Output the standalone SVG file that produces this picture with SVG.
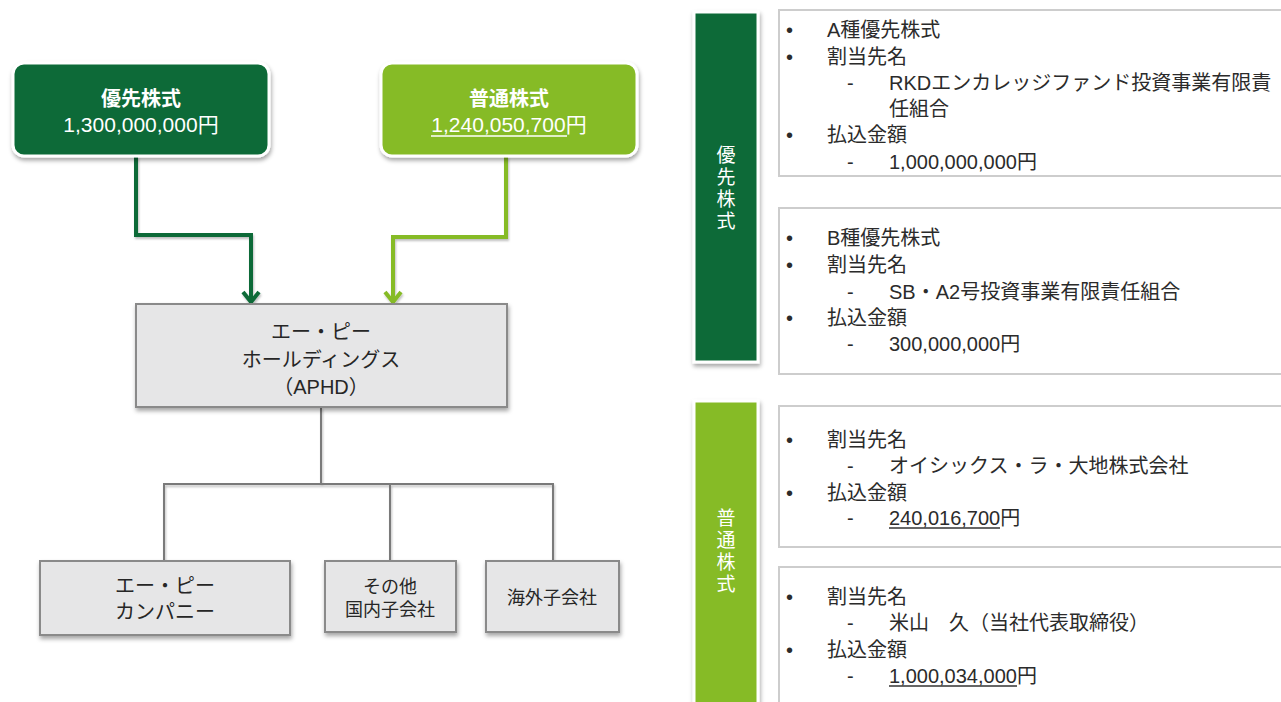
<svg xmlns="http://www.w3.org/2000/svg" width="1281" height="702" viewBox="0 0 1281 702">
<defs>
<filter id="sh" x="-10%" y="-10%" width="125%" height="140%">
<feDropShadow dx="1" dy="3" stdDeviation="2" flood-color="#000" flood-opacity="0.35"/>
</filter>
<filter id="lsh" x="-20%" y="-20%" width="140%" height="140%">
<feDropShadow dx="1" dy="2" stdDeviation="1.2" flood-color="#000" flood-opacity="0.25"/>
</filter>
<marker id="arrD" markerUnits="userSpaceOnUse" viewBox="-16 -12 20 24" refX="0" refY="0" markerWidth="20" markerHeight="24" orient="auto" overflow="visible">
<path d="M -11 -8 L -1 0 L -11 8" fill="none" stroke="#0a6b37" stroke-width="4"/>
</marker>
<marker id="arrL" markerUnits="userSpaceOnUse" viewBox="-16 -12 20 24" refX="0" refY="0" markerWidth="20" markerHeight="24" orient="auto" overflow="visible">
<path d="M -11 -8 L -1 0 L -11 8" fill="none" stroke="#86bb27" stroke-width="4"/>
</marker>
</defs>
<style>
text{font-family:"Liberation Sans","Noto Sans CJK JP",sans-serif;}
.w{fill:#ffffff;font-size:20px;text-anchor:middle;}
.wb{fill:#ffffff;font-size:20px;text-anchor:middle;font-weight:bold;}
.g{fill:#262626;font-size:20px;text-anchor:middle;}
.gs{fill:#262626;font-size:18px;text-anchor:middle;}
.t{fill:#2b2b2b;font-size:20px;}
.dk{fill:#0a6b37;stroke:#ffffff;stroke-width:3;}
.lt{fill:#86bb27;stroke:#ffffff;stroke-width:3;}
.gray{fill:#e6e6e7;stroke:#8a8a8a;stroke-width:2;}
.card{fill:#ffffff;stroke:#cdcdcd;stroke-width:2;}
.tree{fill:none;stroke:#7a7a7a;stroke-width:2;}
.ul{stroke:#333333;stroke-width:1.3;}
</style>
<rect x="0" y="0" width="1281" height="702" fill="#ffffff"/>

<g id="connectors">
<polyline points="136,156 136,235 251,235 251,303" fill="none" stroke="#0a6b37" stroke-width="4" marker-end="url(#arrD)" filter="url(#lsh)"/>
<polyline points="506,156 506,237 393,237 393,303" fill="none" stroke="#86bb27" stroke-width="4" marker-end="url(#arrL)" filter="url(#lsh)"/>
<g filter="url(#lsh)">
<polyline class="tree" points="321,407 321,484"/>
<polyline class="tree" points="164,561 164,484 553,484 553,561"/>
<polyline class="tree" points="390,484 390,561"/>
</g>
</g>

<g id="node-pref">
<rect class="dk" x="13" y="63" width="256" height="93" rx="11" filter="url(#sh)"/>
<text class="wb" x="141" y="106">優先株式</text>
<text class="w" x="141" y="132" style="font-size:21px">1,300,000,000円</text>
</g>

<g id="node-common">
<rect class="lt" x="381" y="63" width="256" height="93" rx="11" filter="url(#sh)"/>
<text class="wb" x="509" y="106">普通株式</text>
<text class="w" x="509" y="132" style="font-size:21px">1,240,050,700円</text>
<line x1="431" y1="136" x2="567" y2="136" stroke="#ffffff" stroke-width="1.3"/>
</g>

<g id="node-aphd">
<rect class="gray" x="136" y="304" width="371" height="103" filter="url(#sh)"/>
<text class="g" x="321" y="339">エー・ピー</text>
<text class="g" x="321" y="367">ホールディングス</text>
<text class="g" x="321" y="394">（APHD）</text>
</g>

<g id="node-apc">
<rect class="gray" x="40" y="561" width="250" height="74" filter="url(#sh)"/>
<text class="g" x="165" y="593">エー・ピー</text>
<text class="g" x="165" y="619">カンパニー</text>
</g>

<g id="node-domestic">
<rect class="gray" x="325" y="561" width="131" height="71" filter="url(#sh)"/>
<text class="gs" x="390" y="593">その他</text>
<text class="gs" x="390" y="616">国内子会社</text>
</g>

<g id="node-overseas">
<rect class="gray" x="486" y="561" width="133" height="71" filter="url(#sh)"/>
<text class="gs" x="552" y="604">海外子会社</text>
</g>

<g id="bar-pref">
<rect class="dk" x="694" y="12" width="64" height="350" filter="url(#sh)"/>
<text class="w" style="font-size:19px">
<tspan x="726" y="162">優</tspan><tspan x="726" y="184">先</tspan><tspan x="726" y="206">株</tspan><tspan x="726" y="228">式</tspan>
</text>
</g>

<g id="bar-common">
<rect class="lt" x="694" y="401" width="64" height="320" filter="url(#sh)"/>
<text class="w" style="font-size:19px">
<tspan x="726" y="525">普</tspan><tspan x="726" y="547">通</tspan><tspan x="726" y="569">株</tspan><tspan x="726" y="591">式</tspan>
</text>
</g>

<g id="card-a">
<rect class="card" x="779" y="10" width="520" height="166"/>
<text class="t" x="786" y="37">•</text><text class="t" x="827" y="37">A種優先株式</text>
<text class="t" x="786" y="63.5">•</text><text class="t" x="827" y="63.5">割当先名</text>
<text class="t" x="847" y="90">-</text><text class="t" x="889" y="90">RKDエンカレッジファンド投資事業有限責</text>
<text class="t" x="889" y="116">任組合</text>
<text class="t" x="786" y="142">•</text><text class="t" x="827" y="142">払込金額</text>
<text class="t" x="847" y="168.5">-</text><text class="t" x="889" y="168.5">1,000,000,000円</text>
</g>

<g id="card-b">
<rect class="card" x="779" y="208" width="520" height="166"/>
<text class="t" x="786" y="245">•</text><text class="t" x="827" y="245">B種優先株式</text>
<text class="t" x="786" y="272">•</text><text class="t" x="827" y="272">割当先名</text>
<text class="t" x="847" y="298.5">-</text><text class="t" x="889" y="298.5">SB・A2号投資事業有限責任組合</text>
<text class="t" x="786" y="325">•</text><text class="t" x="827" y="325">払込金額</text>
<text class="t" x="847" y="351">-</text><text class="t" x="889" y="351">300,000,000円</text>
</g>

<g id="card-c">
<rect class="card" x="779" y="406" width="520" height="141"/>
<text class="t" x="786" y="447">•</text><text class="t" x="827" y="447">割当先名</text>
<text class="t" x="847" y="473">-</text><text class="t" x="889" y="473">オイシックス・ラ・大地株式会社</text>
<text class="t" x="786" y="500">•</text><text class="t" x="827" y="500">払込金額</text>
<text class="t" x="847" y="525">-</text><text class="t" x="889" y="525">240,016,700円</text>
<line class="ul" x1="889" y1="528" x2="1000" y2="528"/>
</g>

<g id="card-d">
<rect class="card" x="779" y="567" width="520" height="160"/>
<text class="t" x="786" y="604">•</text><text class="t" x="827" y="604">割当先名</text>
<text class="t" x="847" y="630">-</text><text class="t" x="889" y="630">米山　久（当社代表取締役）</text>
<text class="t" x="786" y="657">•</text><text class="t" x="827" y="657">払込金額</text>
<text class="t" x="847" y="683">-</text><text class="t" x="889" y="683">1,000,034,000円</text>
<line class="ul" x1="889" y1="686" x2="1017" y2="686"/>
</g>
</svg>
